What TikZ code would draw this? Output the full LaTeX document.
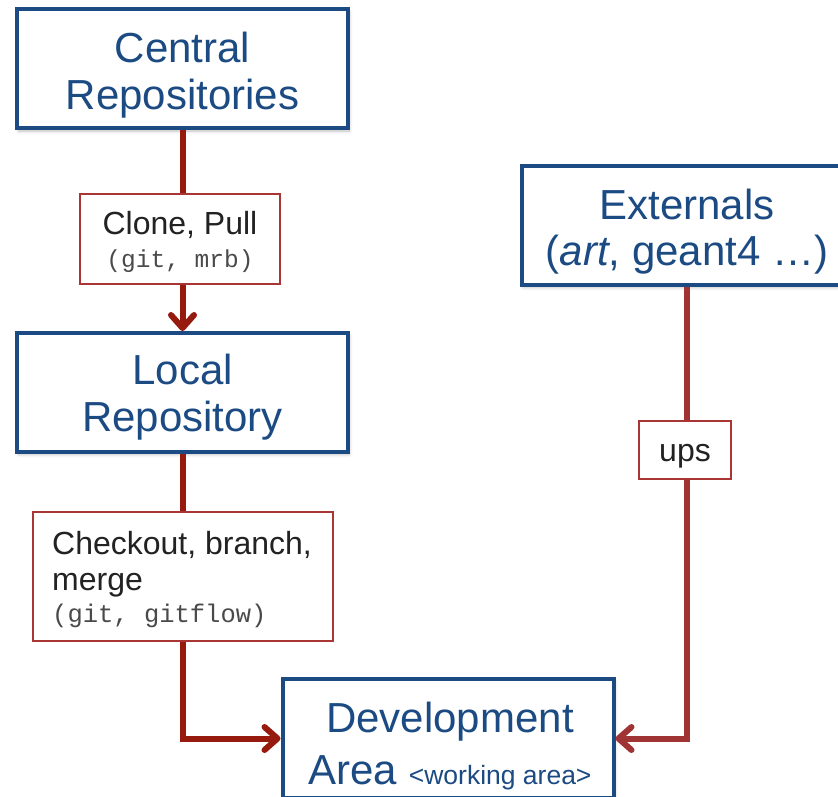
\documentclass[tikz,border=0pt]{standalone}
\usepackage{fontspec}
\setmainfont{Liberation Sans}
\setmonofont{Liberation Mono}
\usetikzlibrary{arrows.meta,shadows,shadows.blur}
\definecolor{boxblue}{HTML}{1B4B82}
\definecolor{arrred}{HTML}{961A0E}
\definecolor{arrredb}{HTML}{A03434}
\definecolor{lblred}{HTML}{AA3535}
\definecolor{lbltext}{HTML}{222222}
\definecolor{monotext}{HTML}{4A4A4A}
\begin{document}
\begin{tikzpicture}[x=1pt,y=-1pt,
  bigbox/.style={draw=boxblue, line width=4pt, fill=white, minimum width=331pt,
    minimum height=119pt, inner sep=0pt,
    blur shadow={shadow xshift=1.5pt, shadow yshift=-2.5pt, shadow blur radius=3pt, shadow opacity=25}},
  bigtext/.style={text=boxblue, inner sep=0pt, align=center, font=\fontsize{42}{47}\selectfont},
  lblbox/.style={draw=lblred, line width=2pt, fill=white, inner sep=0pt},
  lbltxt/.style={text=lbltext, inner sep=0pt, font=\fontsize{32}{33}\selectfont},
  flow/.style={draw=arrred, line width=6pt, -{Straight Barb[length=13pt,width=23pt,round]}},
  flowb/.style={flow, draw=arrredb}
]
\useasboundingbox (0,0) rectangle (838,797);

% main boxes
\node[bigbox] (central) at (182.5,69) {};
\node[bigbox] (local) at (182.5,392.5) {};
\node[bigbox] (ext) at (687,225.5) {};
\node[bigbox] (dev) at (448,738.5) {};

% connectors
\draw[flow] (central) -- (local);
\draw[flow] (local) |- (dev);
\draw[flowb] (ext) |- (dev);

% label boxes
\node[lblbox, minimum width=200pt, minimum height=90pt] (clone) at (180,239) {};
\node[lblbox, minimum width=300pt, minimum height=129pt] (checkout) at (183,576.5) {};
\node[lblbox, minimum width=92pt, minimum height=58pt] (ups) at (685,450) {};

% texts
\node[bigtext] (centralT) at (182.5,75) {Central\\Repositories};
\node[bigtext] (localT) at (182.5,397) {Local\\Repository};
\node[bigtext, font=\fontsize{42}{46}\selectfont] (extT) at (687,232) {Externals\\(\textit{art}, geant4 …)};
\node[bigtext, font=\fontsize{42}{52}\selectfont] (devT) at (450,746) {Development\\Area {\fontsize{26.5}{27}\selectfont <working area>}};

\node[lbltxt, align=center] (cloneT) at (180,241.5) {Clone, Pull\\{\ttfamily\fontsize{24.5}{33}\selectfont\color{monotext}(git, mrb)}};
\node[lbltxt, align=left, anchor=west, font=\fontsize{32}{32}\selectfont] (checkoutT) at (52,580) {Checkout, branch,\\[4pt]merge\\{\ttfamily\fontsize{25.5}{32}\selectfont\color{monotext}(git, gitflow)}};
\node[lbltxt] (upsT) at (685,456) {ups};
\end{tikzpicture}
\end{document}
